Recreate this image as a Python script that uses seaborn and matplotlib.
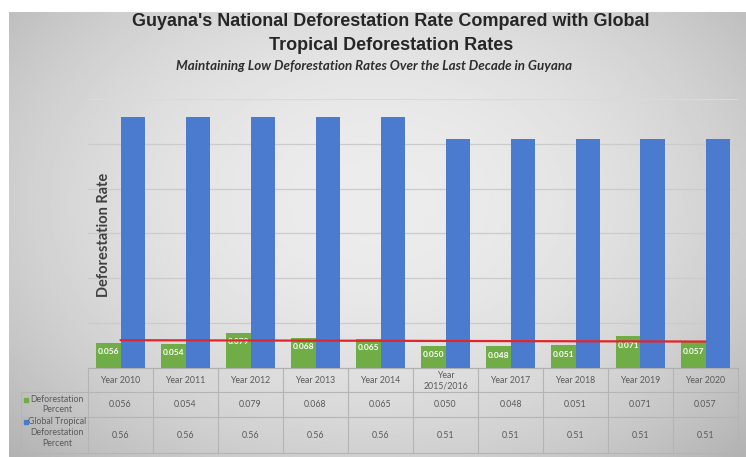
import numpy as np
import pandas as pd
import matplotlib
matplotlib.use("Agg")
import matplotlib.pyplot as plt
import seaborn as sns

# ---- data -------------------------------------------------------------
years = ["Year 2010", "Year 2011", "Year 2012", "Year 2013", "Year 2014",
         "Year\n2015/2016", "Year 2017", "Year 2018", "Year 2019", "Year 2020"]
guyana_rate = [0.056, 0.054, 0.079, 0.068, 0.065, 0.050, 0.048, 0.051, 0.071, 0.057]
global_rate = [0.56, 0.56, 0.56, 0.56, 0.56, 0.51, 0.51, 0.51, 0.51, 0.51]
series_names = ["Deforestation Percent", "Global Tropical Deforestation Percent"]
row_labels = [["Deforestation", "Percent"],
              ["Global Tropical", "Deforestation", "Percent"]]
trend_ends = [0.062, 0.059]          # linear trend of the Guyana series, first/last year

GREEN = "#70ad47"
BLUE = "#4a7bcf"
RED = "#e0262a"
TXT = "#595959"
GRID = "#cbcbcb"

df = pd.DataFrame({
    "year": years * 2,
    "value": guyana_rate + global_rate,
    "series": [series_names[0]] * len(years) + [series_names[1]] * len(years),
})

sns.set_style("white")
plt.rcParams["font.family"] = ["Lato", "DejaVu Sans"]

W, H = 746, 457
fig = plt.figure(figsize=(W / 100, H / 100), dpi=100)
fig.patch.set_facecolor("white")

# ---- soft gray backdrop ------------------------------------------------
bg = fig.add_axes([9 / W, 0, 1 - 9 / W, 1 - 12 / H], zorder=-5)
gy, gx = np.mgrid[-1:1:300j, -1:1:500j]
r2 = (gx / 1.05) ** 2 + ((gy + 0.15) / 1.25) ** 2
shade = 0.925 - 0.13 * r2
bg.imshow(shade, cmap="gray", vmin=0, vmax=1, aspect="auto", interpolation="bilinear")
bg.axis("off")

# ---- main axes ---------------------------------------------------------
base_px, top_px = 368, 99
left_px, right_px = 88, 738
ax = fig.add_axes([left_px / W, (H - base_px) / H,
                   (right_px - left_px) / W, (base_px - top_px) / H])
ax.patch.set_alpha(0)

sns.barplot(data=df, x="year", y="value", hue="series", order=years,
            hue_order=series_names, palette=[GREEN, BLUE], width=0.76,
            saturation=1, legend=False, ax=ax, zorder=3, linewidth=0,
            edgecolor="none")

ax.set_xlim(-0.5, len(years) - 0.5)
ax.set_ylim(0, 0.6)
ax.set_yticks(np.arange(0.1, 0.61, 0.1))
ax.yaxis.grid(True, color=GRID, lw=0.9)
ax.set_axisbelow(True)
# the outermost gridline is barely visible
ax.get_ygridlines()[-1].set_color("#dadada")
ax.tick_params(left=False, bottom=False, labelleft=False, labelbottom=False)
ax.set_xlabel("")
ax.set_ylabel("")
for s in ["top", "right", "left"]:
    ax.spines[s].set_visible(False)
ax.spines["bottom"].set_color("#b0b0b0")
ax.spines["bottom"].set_linewidth(0.9)

# value labels inside the green bars
for patch, v in zip(ax.containers[0], guyana_rate):
    ax.annotate(f"{v:.3f}", xy=(patch.get_x() + patch.get_width() / 2, v),
                xytext=(0, -6.5), textcoords="offset points",
                ha="center", va="center", color="white", fontsize=6,
                fontweight="bold", zorder=5)

# trend line
sns.lineplot(x=[0, len(years) - 1], y=trend_ends, color=RED, lw=1.6, ax=ax,
             zorder=6)

# ---- data table under the axis ----------------------------------------
axh = base_px - top_px
def yfrac(py):
    return (base_px - py) / axh

def xdat(px):
    return -0.5 + (px - left_px) / ((right_px - left_px) / len(years))

tr = ax.get_xaxis_transform()
LINE = dict(color="#b4b4b4", lw=0.8, transform=tr, clip_on=False)
rows_px = [368, 392, 417, 453]
lab_left = 21

# horizontal rules
for py in rows_px[1:]:
    ax.plot([xdat(lab_left), len(years) - 0.5], [yfrac(py)] * 2, **LINE)
# vertical rules
for i in range(len(years) + 1):
    ax.plot([i - 0.5] * 2, [yfrac(368), yfrac(453)], **LINE)
ax.plot([xdat(lab_left)] * 2, [yfrac(392), yfrac(453)], **LINE)

cell_font = dict(fontsize=6.3, color=TXT, ha="center", va="center",
                 transform=tr, clip_on=False, linespacing=1.25)
for i, yr in enumerate(years):
    ax.text(i, yfrac(380.5), yr, **cell_font)
    ax.text(i, yfrac(404.5), f"{guyana_rate[i]:.3f}", **cell_font)
    ax.text(i, yfrac(435), f"{global_rate[i]:.2f}", **cell_font)

# row headers, one line at a time, with a colour key before the first line
label_rows = [(row_labels[0], [399.5, 409.5], GREEN),
              (row_labels[1], [422, 432.5, 443], BLUE)]
for lines, ys, col in label_rows:
    for ln, py in zip(lines, ys):
        ax.text(xdat(57), yfrac(py), ln, **cell_font)
    ax.plot([xdat(26)], [yfrac(ys[0])], marker="s", ms=2.8, color=col,
            transform=tr, clip_on=False, lw=0)

# axis title
fig.text(104 / W, 1 - 235 / H, "Deforestation Rate", rotation=90,
         ha="center", va="center", fontsize=10.5, fontweight="bold",
         color="#404040")

# ---- titles ------------------------------------------------------------
title_font = dict(family=["Liberation Sans", "DejaVu Sans"], fontweight="bold",
                  fontsize=13, color="#262626", ha="center", va="center")
fig.text(391 / W, 1 - 21 / H,
         "Guyana's National Deforestation Rate Compared with Global", **title_font)
fig.text(391 / W, 1 - 45 / H, "Tropical Deforestation Rates", **title_font)
fig.text(374 / W, 1 - 66 / H,
         "Maintaining Low Deforestation Rates Over the Last Decade in Guyana",
         ha="center", va="center", fontsize=9.6, style="italic",
         fontweight="bold", color="#2e2e2e")

fig.savefig("out.png", dpi=100)
